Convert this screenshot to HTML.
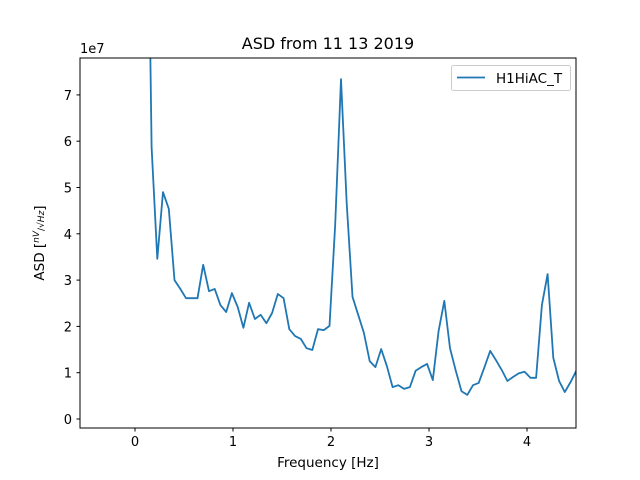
<!DOCTYPE html>
<html><head><meta charset="utf-8"><style>
body{margin:0;background:#fff}
svg{font-family:"DejaVu Sans","Liberation Sans",sans-serif;display:block}
</style></head><body>
<svg id="chart" width="640" height="480" xmlns="http://www.w3.org/2000/svg">
<rect width="640" height="480" fill="#fff"/>
<defs><clipPath id="clip"><rect x="80" y="58" width="496" height="370"/></clipPath></defs>
<text x="328" y="49" font-size="16" text-anchor="middle">ASD from 11 13 2019</text>
<g id="xticks"></g><g id="yticks"></g>
<text x="80" y="53" font-size="13">1e7</text>
<text x="328" y="467" font-size="13.5" text-anchor="middle">Frequency [Hz]</text>
<g transform="translate(44,243) rotate(-90)">
<text x="0" y="0" font-size="13.5" text-anchor="middle">ASD [<tspan font-size="9" font-style="italic" dy="-5">nV</tspan><tspan font-size="9" dy="5">/√</tspan><tspan font-size="9" font-style="italic">Hz</tspan>]</text>
</g>
<path id="series" fill="none" stroke="#1f77b4" stroke-width="1.8" clip-path="url(#clip)" stroke-linejoin="round"/>
<rect x="80" y="58" width="496" height="370" fill="none" stroke="#000" stroke-width="1"/>
<g>
<rect x="451.5" y="65.5" width="119" height="25" rx="2" fill="#fff" stroke="#ccc"/>
<line x1="457" y1="77.5" x2="485" y2="77.5" stroke="#1f77b4" stroke-width="1.8"/>
<text x="496" y="83" font-size="13.5">H1HiAC_T</text>
</g>
</svg>
<script>
const xTicks=[0,1,2,3,4];
const yTicks=[0,1,2,3,4,5,6,7];
const startFreq=0.1104;
const freqStep=0.05857;
const asd=[15,5.87,3.46,4.90,4.54,3.00,2.81,2.61,2.61,2.61,3.33,2.76,2.81,2.46,2.31,2.72,2.42,1.97,2.51,2.16,2.25,2.07,2.29,2.70,2.61,1.94,1.79,1.73,1.53,1.49,1.94,1.92,2.01,4.2,7.34,4.66,2.64,2.25,1.86,1.25,1.12,1.51,1.14,0.69,0.73,0.65,0.69,1.04,1.12,1.19,0.84,1.90,2.55,1.53,1.04,0.60,0.52,0.73,0.78,1.12,1.47,1.27,1.06,0.82,0.91,0.99,1.02,0.89,0.89,2.46,3.13,1.32,0.82,0.58,0.80,1.04];
const freqs=asd.map((_,i)=>startFreq+i*freqStep);
const X=f=>135+f*98;
const Y=v=>419-v*46.3;
const NS="http://www.w3.org/2000/svg";
const svg=document.getElementById('chart');
const xg=document.getElementById('xticks'),yg=document.getElementById('yticks');
xTicks.forEach(t=>{
 const l=document.createElementNS(NS,'line');
 l.setAttribute('x1',X(t));l.setAttribute('x2',X(t));l.setAttribute('y1',428);l.setAttribute('y2',431.5);l.setAttribute('stroke','#000');
 
 
 xg.appendChild(l);
 const tx=document.createElementNS(NS,'text');
 tx.setAttribute('x',X(t));tx.setAttribute('y',446);tx.setAttribute('font-size','13');tx.setAttribute('text-anchor','middle');tx.textContent=t;
 
 
 xg.appendChild(tx);
});
yTicks.forEach(t=>{
 const l=document.createElementNS(NS,'line');
 l.setAttribute('x1',76.5);l.setAttribute('x2',80);l.setAttribute('y1',Y(t));l.setAttribute('y2',Y(t));l.setAttribute('stroke','#000');
 
 
 yg.appendChild(l);
 const tx=document.createElementNS(NS,'text');
 tx.setAttribute('x',72);tx.setAttribute('y',Y(t)+5);tx.setAttribute('font-size','13');tx.setAttribute('text-anchor','end');tx.textContent=t;
 
 
 yg.appendChild(tx);
});
document.getElementById('series').setAttribute('d',asd.map((v,i)=>(i?'L':'M')+X(freqs[i]).toFixed(1)+','+Y(v).toFixed(1)).join(''));
</script>
</body></html>
